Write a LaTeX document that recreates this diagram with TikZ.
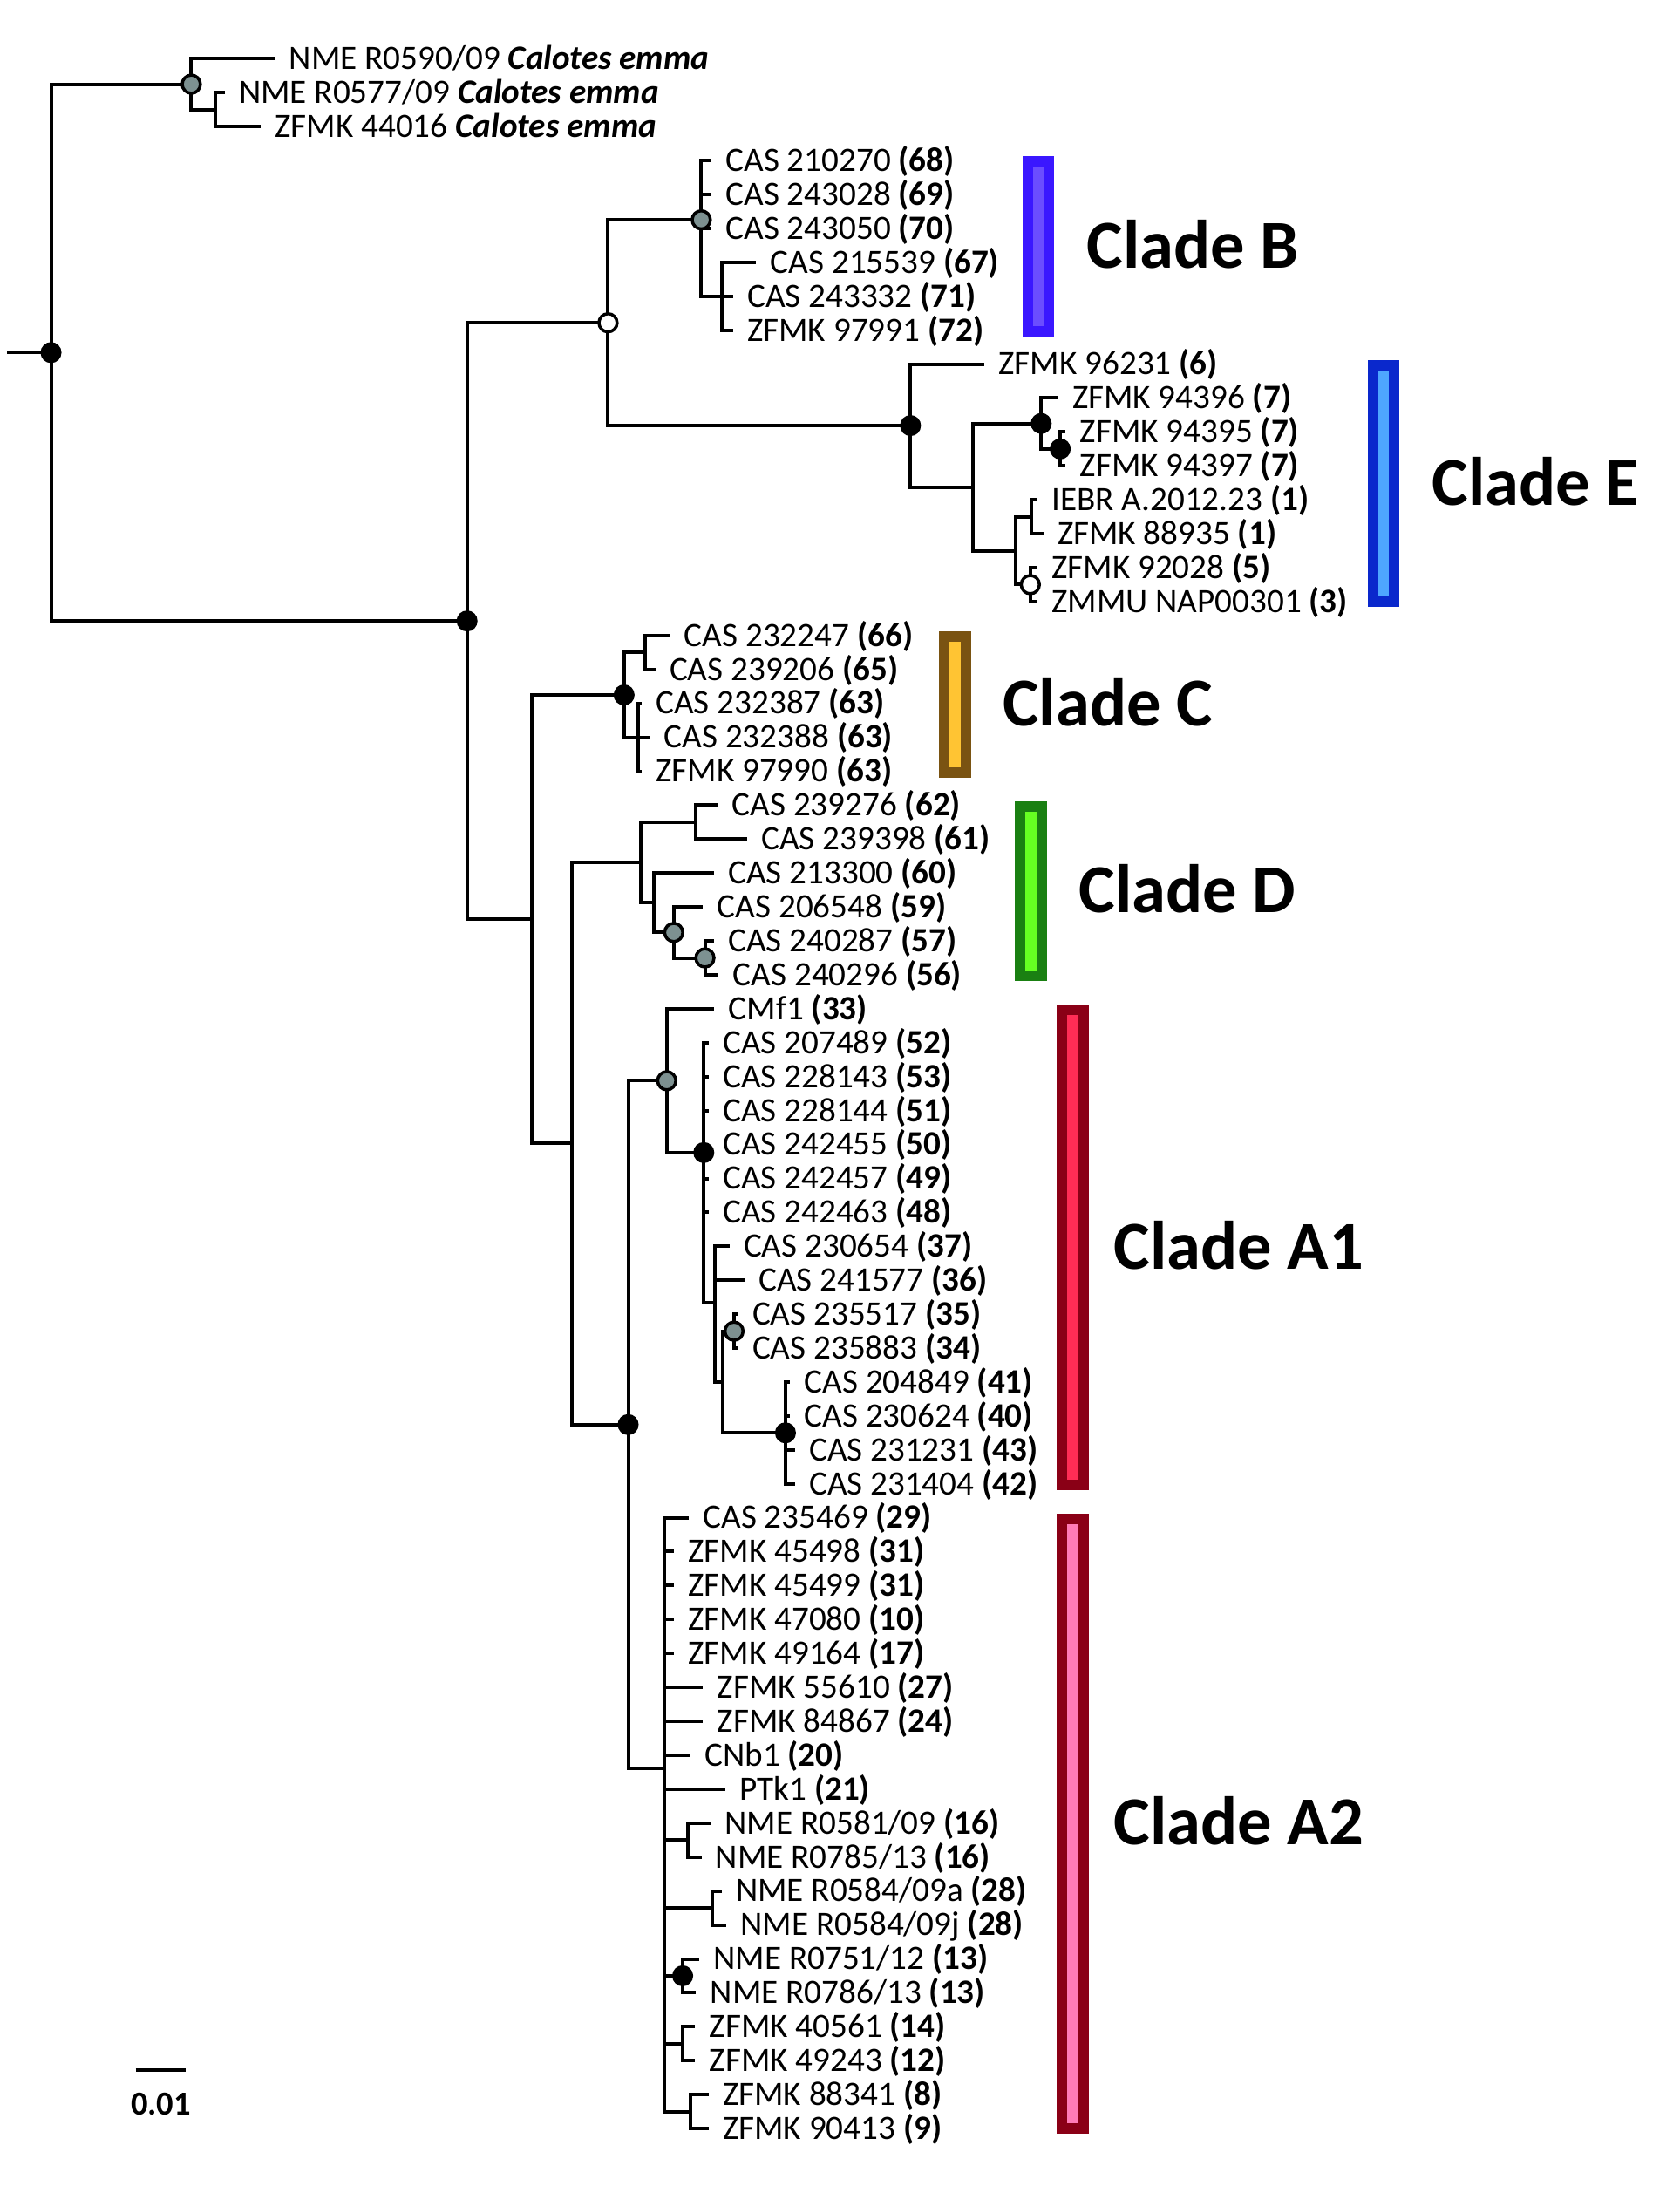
\documentclass[tikz,border=0pt]{standalone}
\usepackage{fontspec}
\setmainfont{Carlito}
\usetikzlibrary{positioning}
\definecolor{nodegray}{RGB}{125,145,145}
\definecolor{bOut}{RGB}{58,23,255}
\definecolor{bIn}{RGB}{107,77,255}
\definecolor{eOut}{RGB}{10,40,204}
\definecolor{eIn}{RGB}{78,166,255}
\definecolor{cOut}{RGB}{122,83,18}
\definecolor{cIn}{RGB}{255,196,51}
\definecolor{dOut}{RGB}{26,128,18}
\definecolor{dIn}{RGB}{102,255,34}
\definecolor{aOut}{RGB}{138,0,22}
\definecolor{aOneIn}{RGB}{255,45,85}
\definecolor{aTwoIn}{RGB}{255,123,182}
\newcommand{\popn}[1]{\textbf{(#1)}}
\newcommand{\calo}{\textbf{\textit{Calotes emma}}}

\begin{document}
\begin{tikzpicture}[x=1pt, y=-1pt, line width=2.5pt,
	leaf/.style={anchor=west, inner xsep=9pt, inner ysep=0pt, text height=15.4pt, text depth=0pt, font=\fontsize{24.4}{29}\selectfont},
	bdot/.style={circle, fill=black, inner sep=0pt, minimum size=15pt},
	gdot/.style={circle, draw=black, line width=2.2pt, fill=nodegray, inner sep=0pt, minimum size=13pt},
	wdot/.style={gdot, fill=white},
	cbar/.style 2 args={draw=#1, fill=#2, line width=7.5pt, inner sep=0pt, minimum width=15.5pt},
	clab/.style={inner sep=0pt, text height=31pt, text depth=0pt, font=\fontsize{49}{58}\selectfont\bfseries}]
	\useasboundingbox (0,0) rectangle (1201,1568);
	% inner nodes of the tree
	\coordinate (stub) at (5,252.1);
	\coordinate (rt) at (36.5,252.1);
	\coordinate (cal) at (136.8,60.2);
	\coordinate (cal2) at (153.9,78.4);
	\coordinate (ing) at (334,444.0);
	\coordinate (be) at (434.8,230.8);
	\coordinate (clB) at (501.5,157.2);
	\coordinate (clB2) at (516.2,211.8);
	\coordinate (clE) at (651.1,304.3);
	\coordinate (clE2) at (695.6,348.3);
	\coordinate (e7) at (744.6,302.8);
	\coordinate (e7b) at (758.2,321.0);
	\coordinate (e1) at (726.5,393.8);
	\coordinate (e1a) at (737.8,369.5);
	\coordinate (e1b) at (736.8,418.0);
	\coordinate (low) at (380.2,657.3);
	\coordinate (clC) at (446.3,496.9);
	\coordinate (clC1) at (461.5,466.6);
	\coordinate (clC2) at (456.3,527.2);
	\coordinate (da) at (409.1,817.6);
	\coordinate (clD) at (458.1,616.7);
	\coordinate (clD1) at (497.5,587.9);
	\coordinate (clD2) at (467.3,645.5);
	\coordinate (clD3) at (481.8,666.7);
	\coordinate (clD4) at (504.1,684.9);
	\coordinate (clA) at (449.2,1018.6);
	\coordinate (clA1) at (476.8,772.7);
	\coordinate (a1b) at (503.3,824.1);
	\coordinate (a1g) at (511,931.5);
	\coordinate (a1j) at (517.1,988.1);
	\coordinate (a1h) at (524.9,951.8);
	\coordinate (a1i) at (561.7,1024.5);
	\coordinate (clA2) at (474.8,1264.5);
	\coordinate (a2p) at (492.2,1315.7);
	\coordinate (a2q) at (509.3,1364.2);
	\coordinate (a2r) at (488.2,1412.7);
	\coordinate (a2s) at (488.2,1461.2);
	\coordinate (a2t) at (493.7,1509.7);
	% leaves
	\node[leaf] (t0) at (196.6,42.0) {NME R0590/09 \calo};
	\node[leaf] (t1) at (160.7,66.3) {NME R0577/09 \calo};
	\node[leaf] (t2) at (186.4,90.5) {ZFMK 44016 \calo};
	\node[leaf] (t3) at (508.8,114.8) {CAS 210270 \popn{68}};
	\node[leaf] (t4) at (508.8,139.0) {CAS 243028 \popn{69}};
	\node[leaf] (t5) at (508.8,163.3) {CAS 243050 \popn{70}};
	\node[leaf] (t6) at (540.8,187.6) {CAS 215539 \popn{67}};
	\node[leaf] (t7) at (524.2,211.8) {CAS 243332 \popn{71}};
	\node[leaf] (t8) at (524.2,236.1) {ZFMK 97991 \popn{72}};
	\node[leaf] (t9) at (704.0,260.3) {ZFMK 96231 \popn{6}};
	\node[leaf] (t10) at (756.6,284.6) {ZFMK 94396 \popn{7}};
	\node[leaf] (t11) at (762.1,308.9) {ZFMK 94395 \popn{7}};
	\node[leaf] (t12) at (762.1,333.1) {ZFMK 94397 \popn{7}};
	\node[leaf] (t13) at (741.8,357.4) {IEBR A.2012.23 \popn{1}};
	\node[leaf] (t14) at (746.0,381.6) {ZFMK 88935 \popn{1}};
	\node[leaf] (t15) at (741.8,405.9) {ZFMK 92028 \popn{5}};
	\node[leaf] (t16) at (741.8,430.2) {ZMMU NAP00301 \popn{3}};
	\node[leaf] (t17) at (479.1,454.4) {CAS 232247 \popn{66}};
	\node[leaf] (t18) at (468.6,478.7) {CAS 239206 \popn{65}};
	\node[leaf] (t19) at (458.8,502.9) {CAS 232387 \popn{63}};
	\node[leaf] (t20) at (464.7,527.2) {CAS 232388 \popn{63}};
	\node[leaf] (t21) at (458.8,551.5) {ZFMK 97990 \popn{63}};
	\node[leaf] (t22) at (513.3,575.7) {CAS 239276 \popn{62}};
	\node[leaf] (t23) at (534.3,600.0) {CAS 239398 \popn{61}};
	\node[leaf] (t24) at (510.6,624.2) {CAS 213300 \popn{60}};
	\node[leaf] (t25) at (502.8,648.5) {CAS 206548 \popn{59}};
	\node[leaf] (t26) at (510.5,672.8) {CAS 240287 \popn{57}};
	\node[leaf] (t27) at (514.0,697.0) {CAS 240296 \popn{56}};
	\node[leaf] (t28) at (510.9,721.3) {CMf1 \popn{33}};
	\node[leaf] (t29) at (506.7,745.5) {CAS 207489 \popn{52}};
	\node[leaf] (t30) at (506.7,769.8) {CAS 228143 \popn{53}};
	\node[leaf] (t31) at (506.7,794.1) {CAS 228144 \popn{51}};
	\node[leaf] (t32) at (506.7,818.3) {CAS 242455 \popn{50}};
	\node[leaf] (t33) at (506.7,842.6) {CAS 242457 \popn{49}};
	\node[leaf] (t34) at (506.7,866.8) {CAS 242463 \popn{48}};
	\node[leaf] (t35) at (521.6,891.1) {CAS 230654 \popn{37}};
	\node[leaf] (t36) at (532.3,915.4) {CAS 241577 \popn{36}};
	\node[leaf] (t37) at (527.8,939.6) {CAS 235517 \popn{35}};
	\node[leaf] (t38) at (527.8,963.9) {CAS 235883 \popn{34}};
	\node[leaf] (t39) at (565.0,988.1) {CAS 204849 \popn{41}};
	\node[leaf] (t40) at (565.0,1012.4) {CAS 230624 \popn{40}};
	\node[leaf] (t41) at (568.4,1036.7) {CAS 231231 \popn{43}};
	\node[leaf] (t42) at (568.4,1060.9) {CAS 231404 \popn{42}};
	\node[leaf] (t43) at (492.6,1085.2) {CAS 235469 \popn{29}};
	\node[leaf] (t44) at (481.9,1109.4) {ZFMK 45498 \popn{31}};
	\node[leaf] (t45) at (481.9,1133.7) {ZFMK 45499 \popn{31}};
	\node[leaf] (t46) at (481.9,1158.0) {ZFMK 47080 \popn{10}};
	\node[leaf] (t47) at (481.9,1182.2) {ZFMK 49164 \popn{17}};
	\node[leaf] (t48) at (502.7,1206.5) {ZFMK 55610 \popn{27}};
	\node[leaf] (t49) at (502.7,1230.7) {ZFMK 84867 \popn{24}};
	\node[leaf] (t50) at (493.7,1255.0) {CNb1 \popn{20}};
	\node[leaf] (t51) at (518.7,1279.3) {PTk1 \popn{21}};
	\node[leaf] (t52) at (508.2,1303.5) {NME R0581/09 \popn{16}};
	\node[leaf] (t53) at (501.6,1327.8) {NME R0785/13 \popn{16}};
	\node[leaf] (t54) at (516.0,1352.0) {NME R0584/09a \popn{28}};
	\node[leaf] (t55) at (519.4,1376.3) {NME R0584/09j \popn{28}};
	\node[leaf] (t56) at (500.0,1400.6) {NME R0751/12 \popn{13}};
	\node[leaf] (t57) at (497.8,1424.8) {NME R0786/13 \popn{13}};
	\node[leaf] (t58) at (497.1,1449.1) {ZFMK 40561 \popn{14}};
	\node[leaf] (t59) at (497.1,1473.3) {ZFMK 49243 \popn{12}};
	\node[leaf] (t60) at (506.7,1497.6) {ZFMK 88341 \popn{8}};
	\node[leaf] (t61) at (506.7,1521.9) {ZFMK 90413 \popn{9}};
	% branches
	\draw (stub) -- (rt);
	\foreach \p/\c in {rt/cal, rt/ing, cal/t0, cal/cal2, cal2/t1, cal2/t2,
		ing/be, ing/low, be/clB, be/clE,
		clB/t3, clB/t4, clB/t5, clB/clB2, clB2/t6, clB2/t7, clB2/t8,
		clE/t9, clE/clE2, clE2/e7, clE2/e1, e7/t10, e7/e7b, e7b/t11, e7b/t12,
		e1/e1a, e1/e1b, e1a/t13, e1a/t14, e1b/t15, e1b/t16,
		low/clC, low/da, clC/clC1, clC/clC2, clC1/t17, clC1/t18, clC2/t19, clC2/t20, clC2/t21,
		da/clD, da/clA, clD/clD1, clD/clD2, clD1/t22, clD1/t23, clD2/t24, clD2/clD3,
		clD3/t25, clD3/clD4, clD4/t26, clD4/t27,
		clA/clA1, clA/clA2, clA1/t28, clA1/a1b,
		a1b/t29, a1b/t30, a1b/t31, a1b/t32, a1b/t33, a1b/t34, a1b/a1g,
		a1g/t35, a1g/t36, a1g/a1j, a1j/a1h, a1j/a1i, a1h/t37, a1h/t38,
		a1i/t39, a1i/t40, a1i/t41, a1i/t42,
		clA2/t43, clA2/t44, clA2/t45, clA2/t46, clA2/t47, clA2/t48, clA2/t49, clA2/t50, clA2/t51,
		clA2/a2p, clA2/a2q, clA2/a2r, clA2/a2s, clA2/a2t,
		a2p/t52, a2p/t53, a2q/t54, a2q/t55, a2r/t56, a2r/t57, a2s/t58, a2s/t59, a2t/t60, a2t/t61}
		{\draw (\p) |- (\c);}
	% support dots
	\foreach \n in {rt, ing, clE, e7, e7b, clC, clA, a1b, a1i, a2r}
		{\node[bdot] (d-\n) at (\n) {};}
	\foreach \n in {cal, clB, clD3, clD4, clA1, a1h}
		{\node[gdot] (d-\n) at (\n) {};}
	\foreach \n in {be, e1b}
		{\node[wdot] (d-\n) at (\n) {};}
	% clade bars and names
	\node[cbar={bOut}{bIn}, minimum height=121.2pt] (barB) at (742.5,176.2) {};
	\node[cbar={eOut}{eIn}, minimum height=169.2pt] (barE) at (989.4,345.7) {};
	\node[cbar={cOut}{cIn}, minimum height=97pt] (barC) at (682.9,503.8) {};
	\node[cbar={dOut}{dIn}, minimum height=121.4pt] (barD) at (737.3,637.1) {};
	\node[cbar={aOut}{aOneIn}, minimum height=339.9pt] (barA1) at (767.3,891.7) {};
	\node[cbar={aOut}{aTwoIn}, minimum height=435.8pt] (barA2) at (767.3,1303.7) {};
	\node[clab, right=22pt of barB] (labB) {Clade B};
	\node[clab, right=22pt of barE] (labE) {Clade E};
	\node[clab, right=21.5pt of barC] (labC) {Clade C};
	\node[clab, right=21.5pt of barD] (labD) {Clade D};
	\node[clab, right=16.5pt of barA1] (labA1) {Clade A1};
	\node[clab, right=16.5pt of barA2] (labA2) {Clade A2};
	% scale bar
	\coordinate (sbL) at (97,1480);
	\coordinate (sbR) at (133,1480);
	\coordinate (sbM) at (115,1480);
	\draw (sbL) -- (sbR);
	\node[inner sep=0pt, text height=15pt, text depth=0pt, font=\fontsize{24}{29}\selectfont\bfseries, below=16pt of sbM] (sbLab) {0.01};
\end{tikzpicture}
\end{document}
